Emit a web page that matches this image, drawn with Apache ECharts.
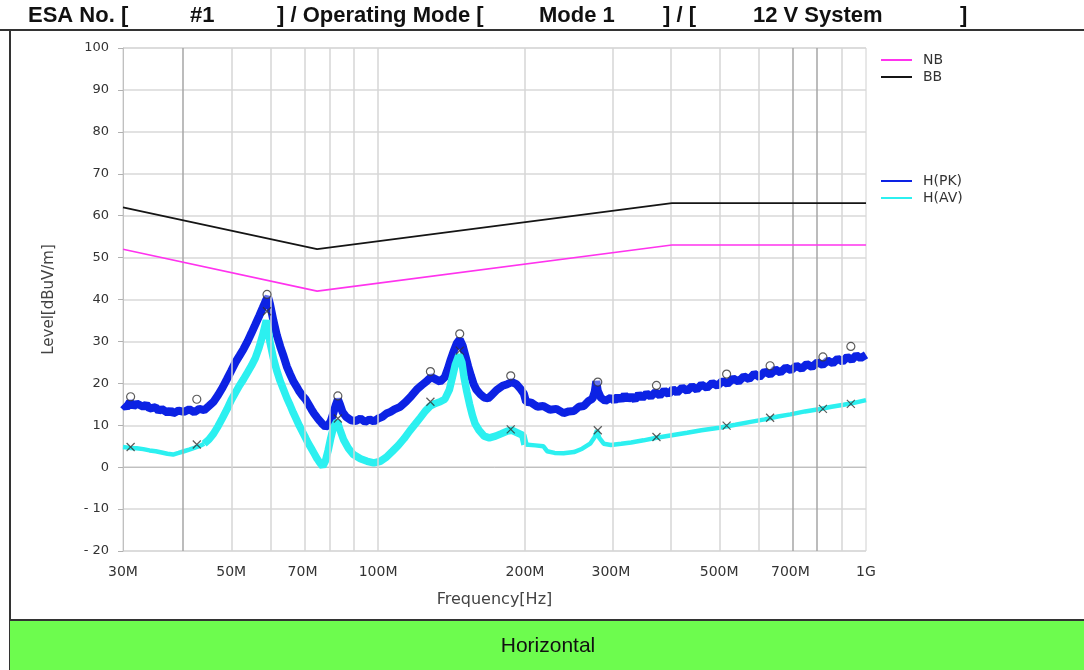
<!DOCTYPE html>
<html>
<head>
<meta charset="utf-8">
<script src="https://cdn.jsdelivr.net/npm/echarts@6/dist/echarts.min.js"></script>
<style>
  html, body { margin: 0; padding: 0; background: #fff; }
  #chart { width: 1084px; height: 670px; }
</style>
</head>
<body>
<div id="chart"></div>
<script>
// frequencies in MHz, levels in dBuV/m
const LIMIT_F = [30, 75, 400, 1000];
const NB_LIMIT = [52, 42, 53, 53];
const BB_LIMIT = [62, 52, 63, 63];

const X_LABEL_F = [30, 50, 70, 100, 200, 300, 500, 700, 1000];
const X_LABELS = ['30M', '50M', '70M', '100M', '200M', '300M', '500M', '700M', '1G'];
const GRID_LIGHT_F = [50, 60, 70, 80, 90, 100, 200, 300, 400, 500, 600, 900];
const GRID_DARK_F = [40, 700, 800];

const PK_TRACE = [
  [30, 15.0], [30.5, 14.2], [31, 15.6], [31.5, 14.5], [32, 15.2], [33, 14.4], [33.5, 15.0],
  [34, 14.0], [35, 14.3], [35.5, 13.4], [36, 13.9], [37, 13.0], [37.5, 13.6], [38, 12.8],
  [39, 13.5], [40, 13.2], [41, 13.8], [42, 13.1], [43, 13.9], [44, 13.6], [45, 14.6],
  [46, 15.6], [47, 17.2], [48, 19.0], [49, 21.0], [50, 23.0], [51, 25.0], [52, 26.6],
  [53, 28.2], [54, 30.0], [55, 32.0], [56, 34.0], [57, 36.0], [58, 38.0], [59, 40.0],
  [59.5, 40.5], [60, 39.0], [61, 35.0], [62, 31.5], [63, 28.8], [64, 26.5], [65, 24.0],
  [66, 22.2], [67, 20.5], [68, 19.3], [69, 18.0], [70, 17.0], [71, 16.2], [72, 15.0],
  [73, 13.8], [74, 12.7], [75, 11.8], [76, 11.0], [77, 10.2], [78, 9.6], [79, 10.0],
  [80, 11.0], [81, 13.0], [82, 15.0], [82.7, 16.2], [83.5, 15.0], [84.5, 13.2], [86, 12.0],
  [88, 11.2], [90, 11.0], [92, 11.6], [94, 10.8], [96, 11.4], [98, 10.9], [100, 11.6],
  [102, 12.0], [104, 12.8], [106, 13.2], [108, 13.8], [111, 14.4], [114, 15.6], [117, 17.0],
  [120, 18.5], [123, 19.6], [126, 20.6], [128.5, 21.5], [131, 21.0], [134, 20.4], [137, 21.5],
  [139, 23.5], [141, 25.8], [143, 27.8], [145, 29.6], [147, 30.5], [149, 29.0], [151, 26.5],
  [153, 24.0], [155, 21.8], [157, 19.8], [159, 18.5], [162, 17.4], [165, 16.6], [168, 16.4],
  [171, 17.2], [175, 18.4], [180, 19.4], [184, 19.8], [188, 20.3], [192, 19.8], [196, 18.6],
  [199, 17.5], [201, 15.6], [206, 15.4], [212, 14.4], [218, 14.6], [225, 13.7], [232, 13.9],
  [240, 12.9], [246, 13.3], [252, 13.4], [258, 14.4], [264, 14.6], [270, 15.8], [275, 16.3],
  [278, 18.0], [280, 20.5], [282, 18.2], [286, 16.6], [292, 15.8], [300, 16.6], [305, 15.8],
  [310, 16.9], [315, 16.0], [320, 17.2], [325, 16.2], [330, 16.9], [336, 16.1], [342, 17.4],
  [348, 16.5], [355, 17.6], [362, 16.8], [370, 17.9], [378, 17.1], [386, 18.3], [394, 17.4],
  [402, 18.6], [410, 17.8], [420, 19.0], [430, 18.2], [440, 19.3], [450, 18.5], [460, 19.7],
  [472, 18.9], [484, 20.1], [496, 19.4], [508, 20.6], [520, 19.9], [534, 21.2], [548, 20.4],
  [562, 21.7], [576, 21.0], [590, 22.3], [605, 21.5], [620, 22.8], [636, 22.1], [652, 23.3],
  [668, 22.6], [685, 23.8], [702, 23.1], [720, 24.2], [738, 23.5], [756, 24.6], [775, 23.9],
  [795, 25.0], [815, 24.4], [835, 25.4], [855, 24.8], [875, 25.9], [895, 25.2], [915, 26.3],
  [935, 25.6], [955, 26.7], [975, 26.0], [1000, 26.8]
];

const AV_LOW = [
  [30, 4.8], [31, 4.6], [32, 4.5], [33, 4.3], [34, 4.0], [35, 3.8], [36, 3.5], [37, 3.2],
  [38, 3.0], [39, 3.4], [40, 3.8], [41, 4.2], [42, 4.6], [43, 5.0], [44, 5.6]
];
const AV_MID = [
  [44, 5.6], [45, 6.6], [46, 8.0], [47, 9.8], [48, 11.8], [49, 13.8], [50, 16.0], [51, 17.8],
  [52, 19.5], [53, 21.0], [54, 22.6], [55, 24.2], [56, 26.0], [57, 28.5], [58, 31.5],
  [59, 35.0], [59.5, 33.0], [60, 30.0], [61, 26.0], [62, 23.0], [63, 20.5], [64, 18.5],
  [65, 16.5], [66, 14.8], [67, 13.0], [68, 11.4], [69, 9.8], [70, 8.4], [71, 7.0], [72, 5.6],
  [73, 4.4], [74, 3.2], [75, 2.0], [76, 1.0], [77, 0.2], [78, 1.5], [79, 4.0], [80, 7.0],
  [81, 9.5], [82.4, 11.0], [83.5, 9.0], [85, 6.5], [87, 4.4], [89, 3.0], [92, 2.0], [95, 1.4],
  [98, 1.0], [101, 1.4], [104, 2.4], [107, 3.8], [110, 5.2], [113, 6.8], [116, 8.6],
  [119, 10.2], [122, 11.8], [125, 13.4], [128, 14.6], [131, 15.2], [134, 15.6], [137, 16.2],
  [140, 18.5], [142, 21.5], [144, 24.5], [146.5, 26.8], [148.5, 25.0], [150, 21.5], [152, 18.0],
  [154, 15.0], [156, 12.4], [158, 10.4], [161, 8.8], [165, 7.4], [169, 7.0], [174, 7.4],
  [179, 8.0], [184, 8.6], [188, 8.8], [193, 8.2], [198, 7.6], [200, 5.4]
];
const AV_HIGH = [
  [200, 5.4], [210, 5.2], [218, 5.0], [222, 3.8], [230, 3.4], [240, 3.3], [252, 3.6],
  [262, 4.4], [272, 5.6], [278, 7.2], [281, 8.8], [284, 7.0], [290, 5.6], [300, 5.3],
  [315, 5.6], [330, 5.9], [350, 6.4], [372, 7.0], [400, 7.6], [430, 8.2], [460, 8.8],
  [500, 9.4], [540, 10.1], [580, 10.8], [620, 11.4], [660, 12.1], [700, 12.6], [750, 13.3],
  [800, 13.8], [850, 14.4], [900, 14.9], [950, 15.4], [1000, 16.0]
];

const PK_MARKS = [
  [31.1, 16.8], [42.5, 16.2], [59.2, 41.2], [82.7, 17.0], [128, 22.8], [147, 31.8], [187, 21.8],
  [282, 20.3], [372, 19.5], [518, 22.2], [636, 24.2], [816, 26.3], [931, 28.8]
];
const AV_MARKS = [
  [31.1, 4.8], [42.5, 5.4], [59.2, 37.2], [82.7, 11.6], [128, 15.6], [147, 27.8], [187, 9.0],
  [282, 8.8], [372, 7.2], [518, 9.9], [636, 11.8], [816, 13.9], [931, 15.1]
];

const lg = Math.log10;
const toXY = arr => arr.map(p => [lg(p[0]), p[1]]);
const limitXY = vals => LIMIT_F.map((f, i) => [lg(f), vals[i]]);

const PK_COLOR = '#0c22e4';
const AV_COLOR = '#2cf0f0';
const FONT = 'DejaVu Sans';

var chart = echarts.init(document.getElementById('chart'));

const gridLines = GRID_LIGHT_F.map(f => ({ xAxis: lg(f), lineStyle: { color: '#d6d6d6', width: 1.5 } }))
  .concat(GRID_DARK_F.map(f => ({ xAxis: lg(f), lineStyle: { color: '#a6a6a6', width: 1.5 } })));

const legendBase = {
  orient: 'vertical',
  left: 876,
  itemWidth: 31,
  itemHeight: 2,
  itemGap: 3,
  icon: 'rect',
  selectedMode: false,
  textStyle: { fontSize: 14, color: '#333', fontFamily: FONT, padding: [0, 0, 0, 6] }
};

const headerText = (x, text) => ({
  type: 'text', x: x, y: 16,
  style: { text: text, font: 'bold 22px "Liberation Sans"', fill: '#111', verticalAlign: 'middle' }
});

var option = {
  animation: false,
  backgroundColor: '#fff',
  grid: {
    left: 123, top: 48, width: 743, height: 503,
    show: true, borderColor: '#d0d0d0', borderWidth: 1
  },
  legend: [
    Object.assign({}, legendBase, { top: 48, data: ['NB', 'BB'] }),
    Object.assign({}, legendBase, { top: 169, data: ['H(PK)', 'H(AV)'] })
  ],
  xAxis: {
    type: 'value',
    min: lg(30),
    max: lg(1000),
    splitLine: { show: false },
    axisTick: { show: false },
    axisLine: { show: true, lineStyle: { color: '#c0c0c0' } },
    axisLabel: {
      customValues: X_LABEL_F.map(lg),
      margin: 14,
      fontSize: 14,
      fontFamily: FONT,
      color: '#333',
      formatter: v => {
        let best = 0;
        X_LABEL_F.forEach((f, i) => {
          if (Math.abs(lg(f) - v) < Math.abs(lg(X_LABEL_F[best]) - v)) best = i;
        });
        return X_LABELS[best];
      }
    },
    name: 'Frequency[Hz]',
    nameLocation: 'middle',
    nameGap: 41,
    nameTextStyle: { fontSize: 16, color: '#444', fontFamily: FONT }
  },
  yAxis: {
    type: 'value',
    min: -20,
    max: 100,
    interval: 10,
    splitLine: { lineStyle: { color: '#d8d8d8', width: 1.5 } },
    axisLine: { show: true, lineStyle: { color: '#c0c0c0' } },
    axisTick: { show: true, length: 5, lineStyle: { color: '#b0b0b0' } },
    axisLabel: {
      margin: 14,
      fontSize: 13,
      fontFamily: FONT,
      color: '#333',
      formatter: v => (v < 0 ? '- ' + Math.abs(v) : String(v))
    },
    name: 'Level[dBuV/m]',
    nameLocation: 'middle',
    nameGap: 66,
    nameTextStyle: { fontSize: 15, color: '#444', fontFamily: FONT }
  },
  series: [
    {
      name: 'grid',
      type: 'line',
      data: [],
      z: 1,
      markLine: {
        silent: true,
        symbol: ['none', 'none'],
        label: { show: false },
        lineStyle: { type: 'solid' },
        data: gridLines
      }
    },
    {
      name: 'NB', type: 'line', data: limitXY(NB_LIMIT), showSymbol: false, z: 5,
      color: '#ff33ee', lineStyle: { width: 1.6 }
    },
    {
      name: 'BB', type: 'line', data: limitXY(BB_LIMIT), showSymbol: false, z: 5,
      color: '#151515', lineStyle: { width: 1.8 }
    },
    {
      name: 'H(PK)', type: 'line', data: toXY(PK_TRACE), showSymbol: false, z: 3,
      color: PK_COLOR, lineStyle: { width: 8 }
    },
    {
      name: 'H(AV)', type: 'line', data: toXY(AV_LOW), showSymbol: false, z: 4,
      color: AV_COLOR, lineStyle: { width: 4.5 }
    },
    {
      name: 'H(AV)', type: 'line', data: toXY(AV_MID), showSymbol: false, z: 4,
      color: AV_COLOR, lineStyle: { width: 7.5 }
    },
    {
      name: 'H(AV)', type: 'line', data: toXY(AV_HIGH), showSymbol: false, z: 4,
      color: AV_COLOR, lineStyle: { width: 4.5 }
    },
    {
      name: 'pk marks', type: 'scatter', data: toXY(PK_MARKS), z: 6,
      symbol: 'circle', symbolSize: 8,
      itemStyle: { color: 'rgba(255,255,255,0.45)', borderColor: '#333', borderWidth: 1.2 }
    },
    {
      name: 'av marks', type: 'scatter', data: toXY(AV_MARKS), z: 6,
      symbol: 'path://M0,0L10,10M10,0L0,10', symbolSize: 8,
      itemStyle: { color: 'none', borderColor: '#333', borderWidth: 1.2 }
    }
  ],
  graphic: [
    { type: 'line', shape: { x1: 0, y1: 30, x2: 1084, y2: 30 }, style: { stroke: '#333', lineWidth: 2 } },
    { type: 'line', shape: { x1: 10, y1: 30, x2: 10, y2: 670 }, style: { stroke: '#333', lineWidth: 2 } },
    { type: 'rect', shape: { x: 10, y: 621, width: 1074, height: 49 }, style: { fill: '#6dfc4e' } },
    { type: 'line', shape: { x1: 10, y1: 620, x2: 1084, y2: 620 }, style: { stroke: '#333', lineWidth: 2 } },
    {
      type: 'text', x: 548, y: 646,
      style: { text: 'Horizontal', fontSize: 21, fontFamily: 'Liberation Sans', fill: '#111', align: 'center', verticalAlign: 'middle' }
    },
    headerText(28, 'ESA No. ['),
    headerText(190, '#1'),
    headerText(277, '] / Operating Mode ['),
    headerText(539, 'Mode 1'),
    headerText(663, '] / ['),
    headerText(753, '12 V System'),
    headerText(960, ']')
  ]
};

chart.setOption(option);
</script>
</body>
</html>
